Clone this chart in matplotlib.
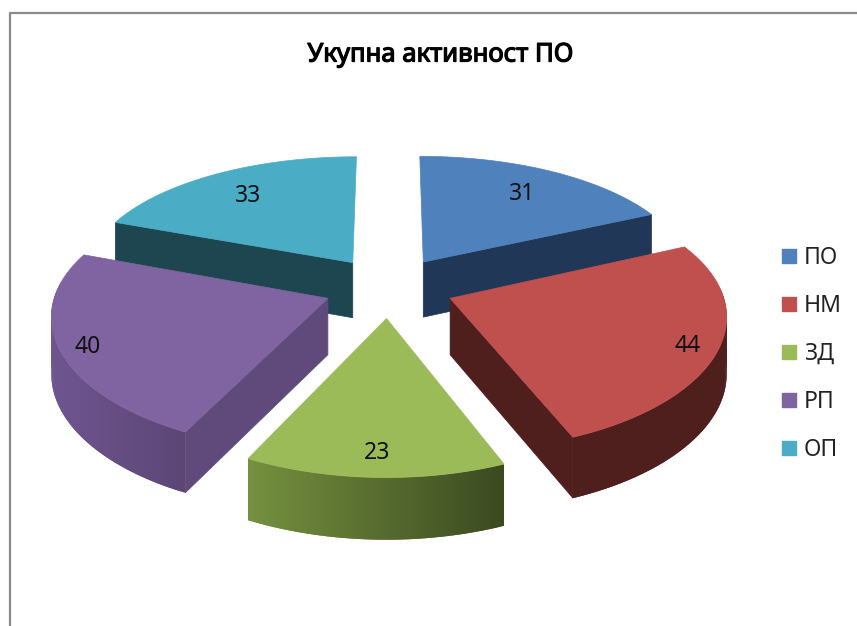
import numpy as np
import matplotlib
matplotlib.use("Agg")
import matplotlib.pyplot as plt
import matplotlib.patheffects as pe
from matplotlib.colors import to_rgb
from matplotlib.patches import Patch
from matplotlib.lines import Line2D

plt.rcParams['font.family'] = ['Noto Sans', 'DejaVu Sans']

title = "Укупна активност ПО"
labels = ["ПО", "НМ", "ЗД", "РП", "ОП"]
values = [31, 44, 23, 40, 33]

top_colors = ["#4f81bd", "#c0504d", "#9bbb59", "#8064a2", "#4bacc6"]
wall_colors = ["#213757", "#4f1f1e", "#4f6129", "#604a7b", "#1e4650"]
rim_start = ["#213757", "#4f1f1e", "#3a4a20", "#5c4676", "#1e4650"]
rim_end = ["#213757", "#4f1f1e", "#76913f", "#6f5590", "#1e4650"]
label_r = [0.76, 0.89, 0.85, 0.9, 0.76]

# projection of the tilted pie, screen pixels
cx, cy = 389, 287
ax_x, ax_y = 271, 127
persp_x, persp_y, persp_z = 0.115, 0.14, 0.08
depth = 56
explode = 0.24


def project(x, y, z=0):
    px = cx + ax_x * x / (1 + persp_x * y)
    py = cy - ax_y * y / (1 + persp_y * y) + depth * z / (1 + persp_z * y)
    return px, py


def lerp(c1, c2, t):
    a, b = np.array(to_rgb(c1)), np.array(to_rgb(c2))
    return tuple(a + (b - a) * t)


fig = plt.figure(figsize=(8.57, 6.26), dpi=100)
ax = fig.add_axes([0, 0, 1, 1])
ax.set_xlim(0, 857)
ax.set_ylim(626, 0)
ax.axis('off')

# window frame, top and left only
ax.add_line(Line2D([10, 10, 857], [626, 13, 13], color="#8a8a8a", lw=1.6))

edges = np.cumsum([0] + values) / sum(values) * 2 * np.pi
wedges = []
for i in range(len(values)):
    mid = (edges[i] + edges[i + 1]) / 2
    ex, ey = explode * np.sin(mid), explode * np.cos(mid)
    wedges.append((ey, i, mid, ex, ey))

# back slices first so the front ones sit on top
for ey_key, i, mid, ex, ey in sorted(wedges, key=lambda w: -w[0]):
    th = np.linspace(edges[i], edges[i + 1], 90)
    xs = ex + np.sin(th)
    ys = ey + np.cos(th)

    # radial walls, only the ones turned to the viewer
    for j, facing in [(0, np.sin(th[0]) < -1e-9), (-1, np.sin(th[-1]) > 1e-9)]:
        if not facing:
            continue
        a = project(np.array([ex, xs[j]]), np.array([ey, ys[j]]), 0)
        b = project(np.array([xs[j], ex]), np.array([ys[j], ey]), 1)
        ax.fill(np.r_[a[0], b[0]], np.r_[a[1], b[1]], color=wall_colors[i], lw=0.5)

    tx, ty = project(xs, ys, 0)
    bx, by = project(xs, ys, 1)
    for k in range(len(th) - 1):
        if np.cos(th[k]) > 0.1:
            continue
        t = (tx[k] - tx.min()) / max(tx.max() - tx.min(), 1)
        col = lerp(rim_end[i], rim_start[i], t)
        # each strip runs under the next one, that hides the seams
        n = min(k + 2, len(th) - 1)
        ax.fill([tx[k], tx[n], bx[n], bx[k]], [ty[k], ty[n], by[n], by[k]],
                facecolor=col, edgecolor='none', lw=0)

    ox, oy = project(np.r_[ex, xs], np.r_[ey, ys], 0)
    ax.fill(ox, oy, color=top_colors[i], lw=0.5)

    lx, ly = project(ex + label_r[i] * np.sin(mid), ey + label_r[i] * np.cos(mid), 0)
    ax.text(lx, ly + 3, str(values[i]), fontsize=16.5, color="#111111", ha='center', va='center')

# Noto Sans has no real bold here, so thicken it with a stroke
ax.text(440, 55, title, fontsize=18.5, color="#000000", ha='center', va='center',
        path_effects=[pe.withStroke(linewidth=0.9, foreground="#000000")])

handles = [Patch(facecolor=c, edgecolor=c) for c in top_colors]
ax.legend(handles, labels, loc='center left', bbox_to_anchor=(782 / 857, 1 - 354 / 626),
          frameon=False, fontsize=16.5, handlelength=0.6, handleheight=0.6,
          handletextpad=0.35, labelspacing=1.05, borderpad=0, borderaxespad=0,
          labelcolor="#222222")

fig.savefig("out.png", dpi=100)
